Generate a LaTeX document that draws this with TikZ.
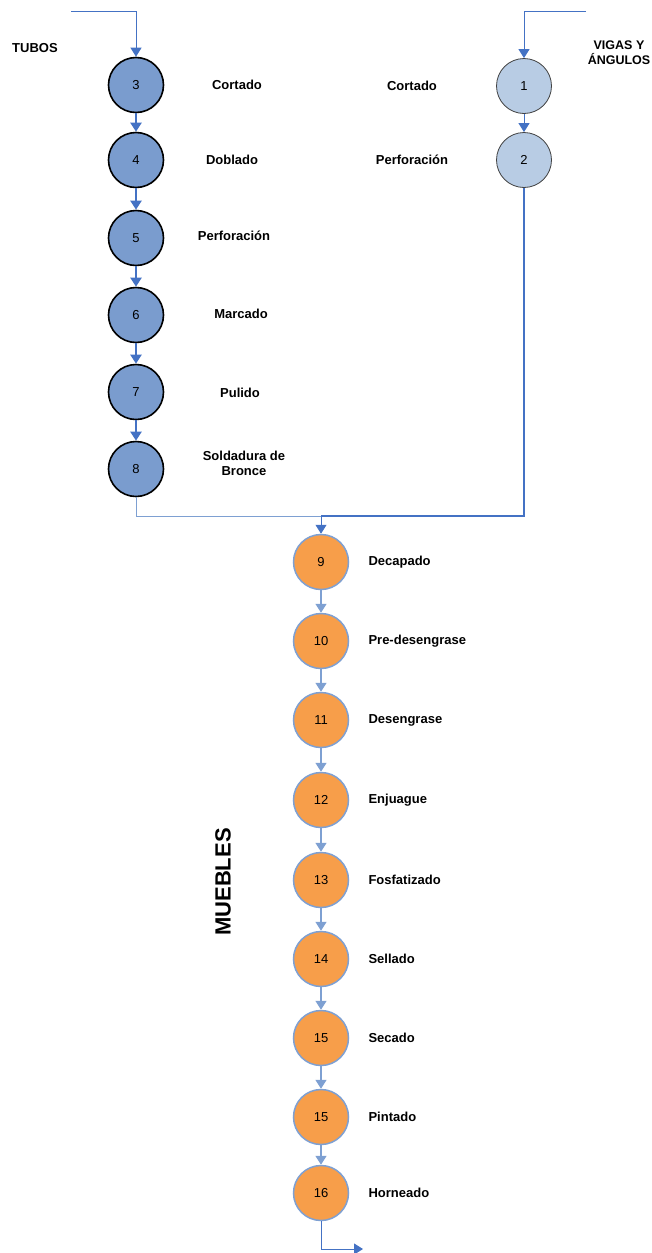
\documentclass[tikz,border=0pt]{standalone}
\usepackage{fontspec}
\setmainfont{Liberation Sans}
\usetikzlibrary{arrows.meta}
\definecolor{tubofill}{RGB}{122,156,206}
\definecolor{vigafill}{RGB}{184,204,228}
\definecolor{naranja}{RGB}{247,158,74}
\definecolor{bordeazul}{RGB}{126,160,210}
\definecolor{lineazul}{RGB}{68,114,196}
\newcommand*{\csize}{55pt}
\newcommand*{\txtfont}{\fontsize{13}{15}\selectfont}
\tikzset{
	paso/.style={
		circle,
		minimum size=\csize,
		inner sep=0pt,
		font=\txtfont
	},
	tubo/.style={
		paso,
		draw=black,
		line width=1.6pt,
		fill=tubofill
	},
	viga/.style={
		paso,
		draw=black!75,
		line width=0.8pt,
		fill=vigafill
	},
	mueble/.style={
		paso,
		draw=bordeazul,
		line width=1.5pt,
		fill=naranja
	},
	etiq/.style={
		font=\bfseries\txtfont,
		align=center
	},
	linea/.style={
		draw=lineazul,
		line width=1pt
	},
	flujo/.style={
		linea,
		-{Triangle[width=11pt,length=9pt]}
	}
}

\begin{document}
\begin{tikzpicture}[x=1pt,y=-1pt]
	\useasboundingbox (0,0) rectangle (652,1253);
	% tubos
	\foreach \n/\y in {3/85,4/160,5/238,6/315,7/392,8/469} {
		\node (t\n) [tubo] at (136,\y) {\n};
	};
	\foreach \n/\x/\y/\txt in {3/237/85/Cortado,4/232/160/Doblado,5/234/236/Perforación,%
			6/241/314/Marcado,7/240/393/Pulido,8/244/463/{Soldadura de\\Bronce}} {
		\node (et\n) [etiq] at (\x,\y) {\txt};
	};
	\node (tubos) [etiq] at (35,48) {TUBOS};
	\coordinate (tin) at (71,11);
	\draw[flujo] (tin) -| (t3);
	\foreach \a/\b in {3/4,4/5,5/6,6/7,7/8} {
		\draw[flujo, line width=2pt] (t\a) -- (t\b);
	};
	% vigas y angulos
	\node (v1) [viga] at (524,86) {1};
	\node (v2) [viga] at (524,160) {2};
	\node (ev1) [etiq] at (412,86) {Cortado};
	\node (ev2) [etiq] at (412,160) {Perforación};
	\node (vigas) [etiq, font=\bfseries\fontsize{12.5}{15}\selectfont] at (619,53) {VIGAS Y\\ÁNGULOS};
	\coordinate (vin) at (586,11);
	\draw[flujo] (vin) -| (v1);
	\draw[flujo] (v1) -- (v2);
	% union
	\coordinate (junta) at (321,516);
	\draw[linea, draw=bordeazul] (t8) |- (junta);
	\draw[linea, line width=1.8pt] (v2) |- (junta);
	% muebles
	\foreach \i/\n/\y/\txt in {1/9/562/Decapado,2/10/641/Pre-desengrase,3/11/720/Desengrase,%
			4/12/800/Enjuague,5/13/880/Fosfatizado,6/14/959/Sellado,7/15/1038/Secado,%
			8/15/1117/Pintado,9/16/1193/Horneado} {
		\node (m\i) [mueble] at (321,\y) {\n};
		\node (em\i) [etiq, anchor=west] at (365,\y) {\txt};
	};
	\draw[flujo] (junta) -- (m1);
	\foreach \a/\b in {1/2,2/3,3/4,4/5,5/6,6/7,7/8,8/9} {
		\draw[flujo, draw=bordeazul, line width=1.5pt] (m\a) -- (m\b);
	};
	\coordinate (fin) at (363,1249);
	\draw[flujo] (m9) |- (fin);
	\node (muebles) [etiq, rotate=90, font=\bfseries\fontsize{22}{24}\selectfont] at (223,882) {MUEBLES};
\end{tikzpicture}
\end{document}
